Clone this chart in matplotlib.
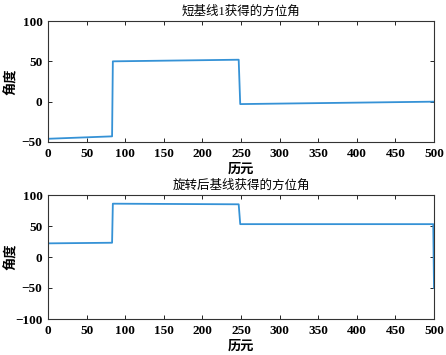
import matplotlib
matplotlib.use("Agg")
import matplotlib.pyplot as plt

# Data
x1 = [0, 83, 84, 247, 249, 500]
y1 = [-46, -43, 50, 52, -3, 0]
x2 = [0, 83, 84, 247, 249, 499, 500]
y2 = [22, 23, 86, 85, 53, 53, -50]

title1 = "短基线1获得的方位角"
title2 = "旋转后基线获得的方位角"
xlabel = "历元"
ylabel = "角度"
xticks = [0, 50, 100, 150, 200, 250, 300, 350, 400, 450, 500]
yticks1 = [-50, 0, 50, 100]
yticks2 = [-100, -50, 0, 50, 100]

fam = ['Liberation Serif', 'Noto Sans CJK SC']
plt.rcParams['font.family'] = fam

fig = plt.figure(figsize=(4.46, 3.55), dpi=100)
W, H = 446, 355
ax1 = fig.add_axes([48 / W, 1 - 142 / H, 386 / W, 121 / H])
ax2 = fig.add_axes([48 / W, 1 - 319 / H, 386 / W, 124 / H])

color = '#3592d6'
for ax, x, y, t, yt in [(ax1, x1, y1, title1, yticks1), (ax2, x2, y2, title2, yticks2)]:
    ax.plot(x, y, color=color, lw=1.3)
    ax.set_xlim(0, 500)
    ax.set_ylim(yt[0], yt[-1])
    ax.set_xticks(xticks)
    ax.set_yticks(yt)
    ax.tick_params(direction='in', top=True, right=True, labelsize=9.5, length=3, width=0.6, pad=4)
    for lab in ax.get_xticklabels() + ax.get_yticklabels():
        lab.set_fontweight('bold')
    for s in ax.spines.values():
        s.set_linewidth(0.8)
        s.set_color('#333333')
    ax.set_title(t, fontsize=9, pad=4.5, fontweight='medium')
    ax.set_xlabel(xlabel, fontsize=9.5, fontweight='bold')
    ax.set_ylabel(ylabel, fontsize=9.5, fontweight='bold')
    ax.yaxis.set_label_coords(-0.078, 0.5)
    ax.xaxis.set_label_coords(0.5, -0.175)

fig.savefig("out.png", dpi=100)
